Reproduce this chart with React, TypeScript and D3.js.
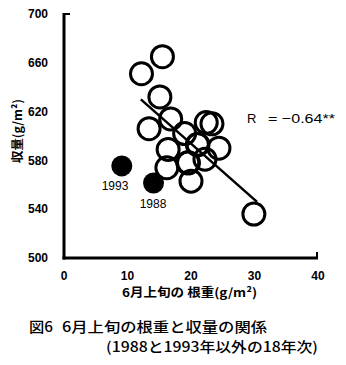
import React from "react";
import * as d3 from "d3";

const rootWeight: number[] = [15.5, 12.2, 15.1, 16.8, 13.4, 19.0, 22.4, 23.3, 24.4, 16.4, 21.0, 19.5, 22.2, 16.2, 20.0, 29.9, 19.6, 21.1];
const yieldValues: number[] = [665, 651, 632, 614, 606, 602, 611, 610, 590, 589, 593, 578, 581, 574, 563, 536, 578, 593];
const excludedYears: string[] = ["1993", "1988"];
const excludedRoot: number[] = [9.1, 14.1];
const excludedYield: number[] = [575.5, 561.5];
const regLineX: number[] = [12.1, 30.4];
const regLineY: number[] = [630, 546];
const xTicks: number[] = [0, 10, 20, 30, 40];
const yTicks: number[] = [500, 540, 580, 620, 660, 700];

export default function App() {
  const x = d3.scaleLinear().domain([0, 40]).range([64, 318]);
  const y = d3.scaleLinear().domain([500, 700]).range([258, 14]);
  const line = d3.line<[number, number]>().x((d) => x(d[0])).y((d) => y(d[1]));
  const regPts: [number, number][] = regLineX.map((v, i) => [v, regLineY[i]]);
  const font = "'Noto Sans CJK JP', 'Liberation Sans', sans-serif";
  const num = "'Liberation Sans', sans-serif";
  return (
    <svg width={346} height={365} style={{ position: "absolute", left: 0, top: 0, background: "#fff" }} fontFamily={font}>
      {/* axes */}
      <line x1={x(0)} x2={x(0)} y1={y(700) - 1} y2={y(500) + 1.5} stroke="#000" strokeWidth={3} />
      <line x1={x(0) - 1.5} x2={x(40)} y1={y(500)} y2={y(500)} stroke="#000" strokeWidth={3} />
      <line x1={x(0)} x2={x(0) + 6} y1={y(700)} y2={y(700)} stroke="#000" strokeWidth={2} />
      <line x1={x(40) - 1} x2={x(40) - 1} y1={y(500)} y2={y(500) - 6} stroke="#000" strokeWidth={2} />
      {yTicks.map((t) => (
        <text key={t} x={48} y={y(t)} dy="0.35em" textAnchor="end" fontSize={12} fontWeight={700} fontFamily={num}>{t}</text>
      ))}
      {xTicks.map((t) => (
        <text key={t} x={x(t)} y={276} dy="0.35em" textAnchor="middle" fontSize={12} fontWeight={700} fontFamily={num}>{t}</text>
      ))}
      {/* regression line */}
      <path d={line(regPts) || ""} fill="none" stroke="#000" strokeWidth={2.5} />
      {/* points */}
      {rootWeight.map((v, i) => (
        <circle key={i} cx={x(v)} cy={y(yieldValues[i])} r={11} fill="none" stroke="#000" strokeWidth={3} />
      ))}
      {excludedRoot.map((v, i) => (
        <circle key={"e" + i} cx={x(v)} cy={y(excludedYield[i])} r={10.5} fill="#000" />
      ))}
      <text x={115} y={186} dy="0.35em" textAnchor="middle" fontSize={12} fontFamily={num}>{excludedYears[0]}</text>
      <text x={153} y={204} dy="0.35em" textAnchor="middle" fontSize={12} fontFamily={num}>{excludedYears[1]}</text>
      <text x={247} y={118} dy="0.35em" fontSize={13} fontFamily={num}>R</text>
      <text x={268} y={118} dy="0.35em" fontSize={13} fontFamily={num} textLength={67} lengthAdjust="spacingAndGlyphs">= −0.64**</text>
      {/* axis titles */}
      <text transform="translate(22,131) rotate(-90)" textAnchor="middle" fontSize={12} fontWeight={700} textLength={64} lengthAdjust="spacingAndGlyphs">収量(g/m²)</text>
      <text x={122} y={297} fontSize={12} fontWeight={700} textLength={135} lengthAdjust="spacingAndGlyphs" style={{ whiteSpace: "pre" }}>6月上旬の 根重(g/m²)</text>
      <text x={29} y={332} fontSize={14} fontWeight={500} textLength={24} lengthAdjust="spacingAndGlyphs">図6</text>
      <text x={62} y={332} fontSize={14} fontWeight={500} textLength={205} lengthAdjust="spacingAndGlyphs">6月上旬の根重と収量の関係</text>
      <text x={106} y={352} fontSize={14} fontWeight={500} textLength={212} lengthAdjust="spacingAndGlyphs">(1988と1993年以外の18年次)</text>
    </svg>
  );
}
